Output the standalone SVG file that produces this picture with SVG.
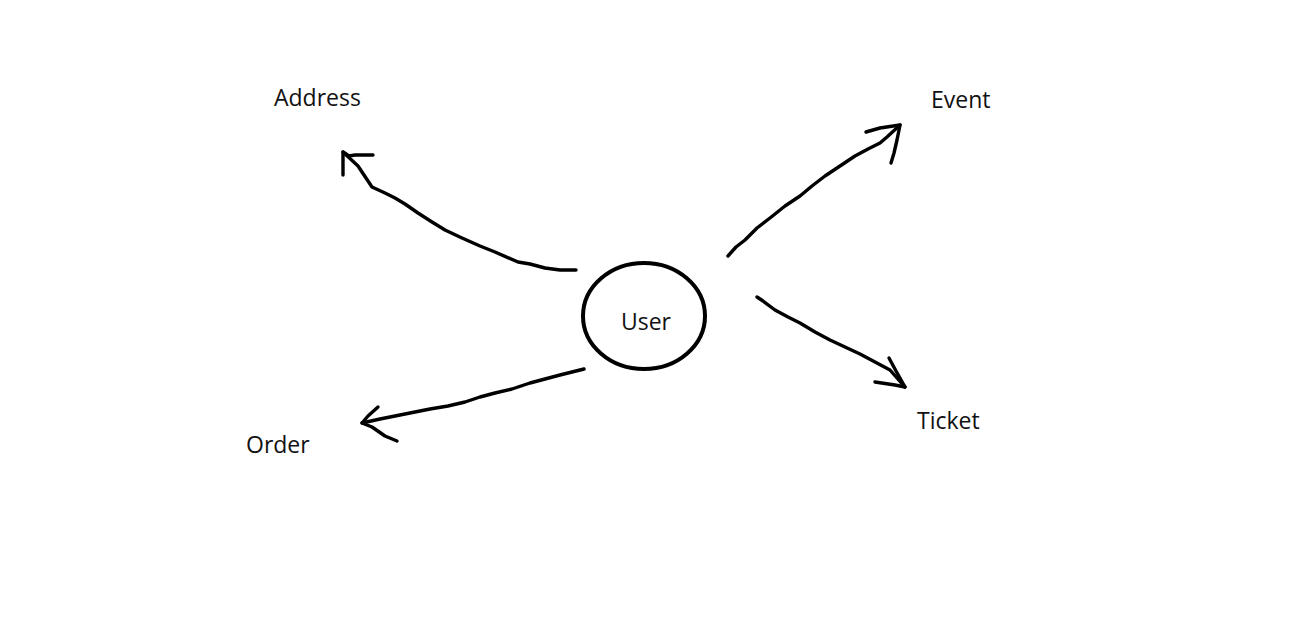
<svg xmlns="http://www.w3.org/2000/svg" width="1310" height="644" viewBox="0 0 1310 644">
<style>
.lbl{font-family:"Open Sans","Noto Sans","Liberation Sans",sans-serif;font-size:23px;fill:#111}
.ln{fill:none;stroke:#000;stroke-width:3.4;stroke-linecap:round;stroke-linejoin:round}
</style>
<rect width="1310" height="644" fill="#fff"/>
<g id="connectors">
<path class="ln" d="M576,270 L560,270 L545,268 L530,264 L518,262 L495,252 L480,246 L462,238 L445,230 L432,222 L418,213 L405,204 L395,198 L385,193 L372,187 L366,178 L358,166 L343,152"/>
<path class="ln" d="M343,175 L343,152 L349,156 L355,155 L373,155"/>
<path class="ln" d="M728,256 L736,247 L745,240 L757,228 L770,218 L785,206 L800,196 L812,186 L825,176 L840,166 L855,156 L868,149 L880,143 L887,137 L900,125"/>
<path class="ln" d="M866,132 L880,128 L900,125 L897,140 L894,153 L891,163"/>
<path class="ln" d="M757,297 L763,301 L775,310 L788,317 L800,323 L815,332 L830,340 L845,347 L860,354 L875,362 L890,370 L897,378 L905,387"/>
<path class="ln" d="M889,358 L896,371 L905,387 L895,385 L875,382"/>
<path class="ln" d="M584,369 L572,372 L560,375 L545,379 L530,383 L512,389 L495,393 L480,397 L465,402 L448,406 L430,409 L415,412 L400,415 L380,419 L362,423"/>
<path class="ln" d="M378,407 L368,416 L362,423 L372,427 L385,436 L397,441"/>
</g>
<g id="user">
<ellipse cx="644" cy="316" rx="61" ry="53" fill="none" stroke="#000" stroke-width="4"/>
<text class="lbl" x="646" y="330" text-anchor="middle">User</text>
</g>
<g id="address"><text class="lbl" x="274" y="106">Address</text></g>
<g id="event"><text class="lbl" x="931" y="108">Event</text></g>
<g id="ticket"><text class="lbl" x="917" y="429">Ticket</text></g>
<g id="order"><text class="lbl" x="246" y="453">Order</text></g>
</svg>
